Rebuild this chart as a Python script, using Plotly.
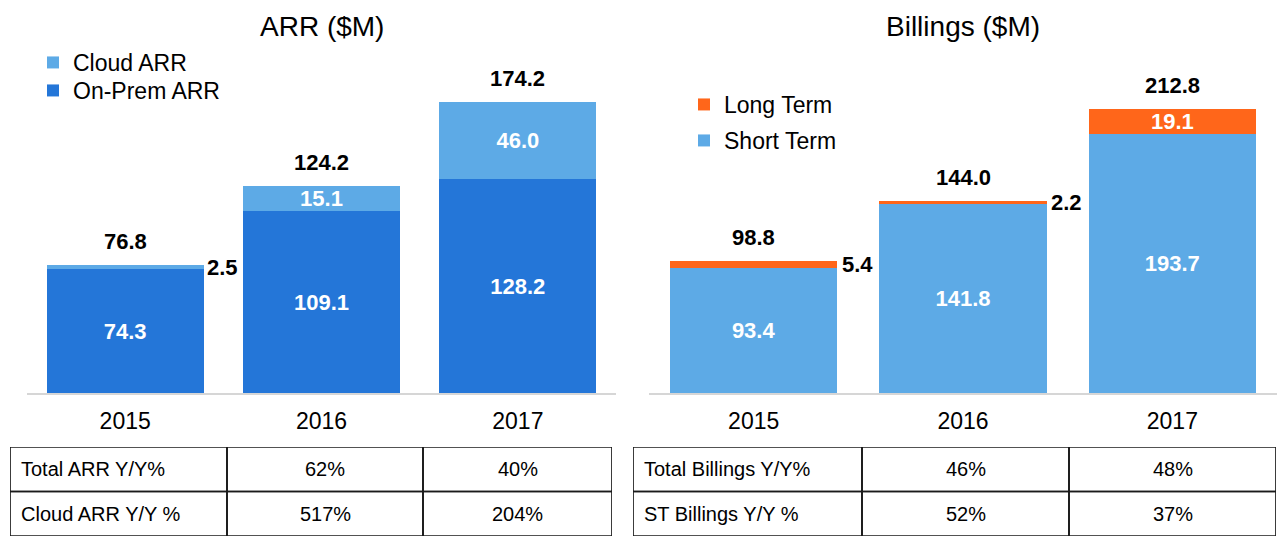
import plotly.graph_objects as go

years = ["2015", "2016", "2017"]
onprem_arr = [74.3, 109.1, 128.2]
cloud_arr = [2.5, 15.1, 46.0]
arr_total = [76.8, 124.2, 174.2]
short_term = [93.4, 141.8, 193.7]
long_term = [5.4, 2.2, 19.1]
billings_total = [98.8, 144.0, 212.8]

arr_tbl_labels = ["Total ARR Y/Y%", "Cloud ARR Y/Y %"]
arr_tbl_2016 = ["62%", "517%"]
arr_tbl_2017 = ["40%", "204%"]
bil_tbl_labels = ["Total Billings Y/Y%", "ST Billings Y/Y %"]
bil_tbl_2016 = ["46%", "52%"]
bil_tbl_2017 = ["48%", "37%"]

DARK = "#2476d8"
LIGHT = "#5daae6"
ORANGE = "#ff661a"
FONT = "Liberation Sans, Arial, sans-serif"
W, H = 1287, 541

def inside(vals):
    return [f"{v:.1f}" if v >= 10 else "" for v in vals]

fig = go.Figure()
bar_common = dict(width=0.8, textposition="inside", insidetextanchor="middle",
                  constraintext="none",
                  textfont=dict(color="white", size=22, family=FONT, weight="bold"),
                  hoverinfo="skip", marker_line_width=0)
fig.add_trace(go.Bar(x=years, y=onprem_arr, name="On-Prem ARR", marker_color=DARK,
                     text=inside(onprem_arr), xaxis="x", yaxis="y", legend="legend2", **bar_common))
fig.add_trace(go.Bar(x=years, y=cloud_arr, name="Cloud ARR", marker_color=LIGHT,
                     text=inside(cloud_arr), xaxis="x", yaxis="y", legend="legend", **bar_common))
fig.add_trace(go.Bar(x=years, y=short_term, name="Short Term", marker_color=LIGHT,
                     text=inside(short_term), xaxis="x2", yaxis="y2", legend="legend4", **bar_common))
fig.add_trace(go.Bar(x=years, y=long_term, name="Long Term", marker_color=ORANGE,
                     text=inside(long_term), xaxis="x2", yaxis="y2", legend="legend3", **bar_common))

ann = []
shapes = []
lblfont = dict(size=22, color="black", family=FONT, weight="bold")
for xr, yr, tot, top, shift in [("x", "y", arr_total, cloud_arr, 80),
                                ("x2", "y2", billings_total, long_term, 86)]:
    for i, (t, v) in enumerate(zip(tot, top)):
        ann.append(dict(x=i, y=t, xref=xr, yref=yr, text=f"{t:.1f}", showarrow=False,
                        yanchor="bottom", yshift=9, font=lblfont))
        if v < 10:
            ann.append(dict(x=i, y=t - v / 2, xref=xr, yref=yr, text=f"{v:.1f}",
                            showarrow=False, xanchor="left", yanchor="middle",
                            xshift=shift, font=lblfont))
for xr, title in [("x domain", "ARR ($M)"), ("x2 domain", "Billings ($M)")]:
    ann.append(dict(x=0.5, xref=xr, y=1 - 27 / H, yref="paper", text=title,
                    showarrow=False, xanchor="center", yanchor="middle",
                    font=dict(size=28, color="black", family=FONT)))

# tables drawn on their own axes: columns in width units, rows as indices
def add_table(xr, yr, columns, widths):
    edges = [0]
    for w in widths:
        edges.append(edges[-1] + w)
    nrows = len(columns[0])
    for r in range(nrows):
        for c, col in enumerate(columns):
            shapes.append(dict(type="rect", xref=xr, yref=yr, x0=edges[c], x1=edges[c + 1],
                               y0=r, y1=r + 1, line=dict(color="#1a1a1a", width=1.7),
                               fillcolor="rgba(0,0,0,0)"))
            if c == 0:
                ann.append(dict(x=edges[c], y=r + 0.5, xref=xr, yref=yr, text=col[r],
                                xanchor="left", yanchor="middle", xshift=9, showarrow=False,
                                font=dict(size=20, color="black", family=FONT)))
            else:
                ann.append(dict(x=(edges[c] + edges[c + 1]) / 2, y=r + 0.5, xref=xr, yref=yr,
                                text=col[r], xanchor="center", yanchor="middle",
                                showarrow=False,
                                font=dict(size=20, color="black", family=FONT)))
    return edges[-1], nrows

lw, lr = add_table("x3", "y3", [arr_tbl_labels, arr_tbl_2016, arr_tbl_2017], [217, 196, 189])
rw, rr = add_table("x4", "y4", [bil_tbl_labels, bil_tbl_2016, bil_tbl_2017], [229, 207, 207])

ydom = [1 - 393.3 / H, 1 - 40 / H]
tdom = [1 - 536 / H, 1 - 447 / H]
xcommon = dict(showline=True, linecolor="#d6d6d6", linewidth=1.5, ticks="",
               tickfont=dict(size=23, color="black", family=FONT), ticklabelstandoff=6,
               showgrid=False, zeroline=False, fixedrange=True, range=[-0.5, 2.5],
               type="category")
ycommon = dict(visible=False, showgrid=False, zeroline=False, fixedrange=True)
hid = dict(visible=False, showgrid=False, zeroline=False, fixedrange=True)

def leg(xpx, ypx):
    return dict(x=xpx / W, y=1 - ypx / H, xanchor="left", yanchor="top",
                font=dict(size=23, color="black", family=FONT), bgcolor="rgba(0,0,0,0)",
                itemclick=False, itemdoubleclick=False)

fig.update_layout(
    width=W, height=H, margin=dict(l=0, r=0, t=0, b=0),
    paper_bgcolor="white", plot_bgcolor="white", barmode="stack",
    font=dict(family=FONT),
    xaxis=dict(domain=[27 / W, 616 / W], anchor="y", **xcommon),
    yaxis=dict(domain=ydom, range=[0, 353.3 / 1.67], anchor="x", **ycommon),
    xaxis2=dict(domain=[649 / W, 1277 / W], anchor="y2", **xcommon),
    yaxis2=dict(domain=ydom, range=[0, 353.3 / 1.3375], anchor="x2", **ycommon),
    xaxis3=dict(domain=[10 / W, 612 / W], range=[0, lw], anchor="y3", **hid),
    yaxis3=dict(domain=tdom, range=[lr, 0], anchor="x3", **hid),
    xaxis4=dict(domain=[633 / W, 1276 / W], range=[0, rw], anchor="y4", **hid),
    yaxis4=dict(domain=tdom, range=[rr, 0], anchor="x4", **hid),
    legend=leg(33, 41),
    legend2=leg(33, 69),
    legend3=leg(684, 83),
    legend4=leg(684, 119),
    annotations=ann, shapes=shapes, showlegend=True,
)
fig.write_html("out.html", config={"displayModeBar": False},
               post_script="document.body.style.margin='0px';")
